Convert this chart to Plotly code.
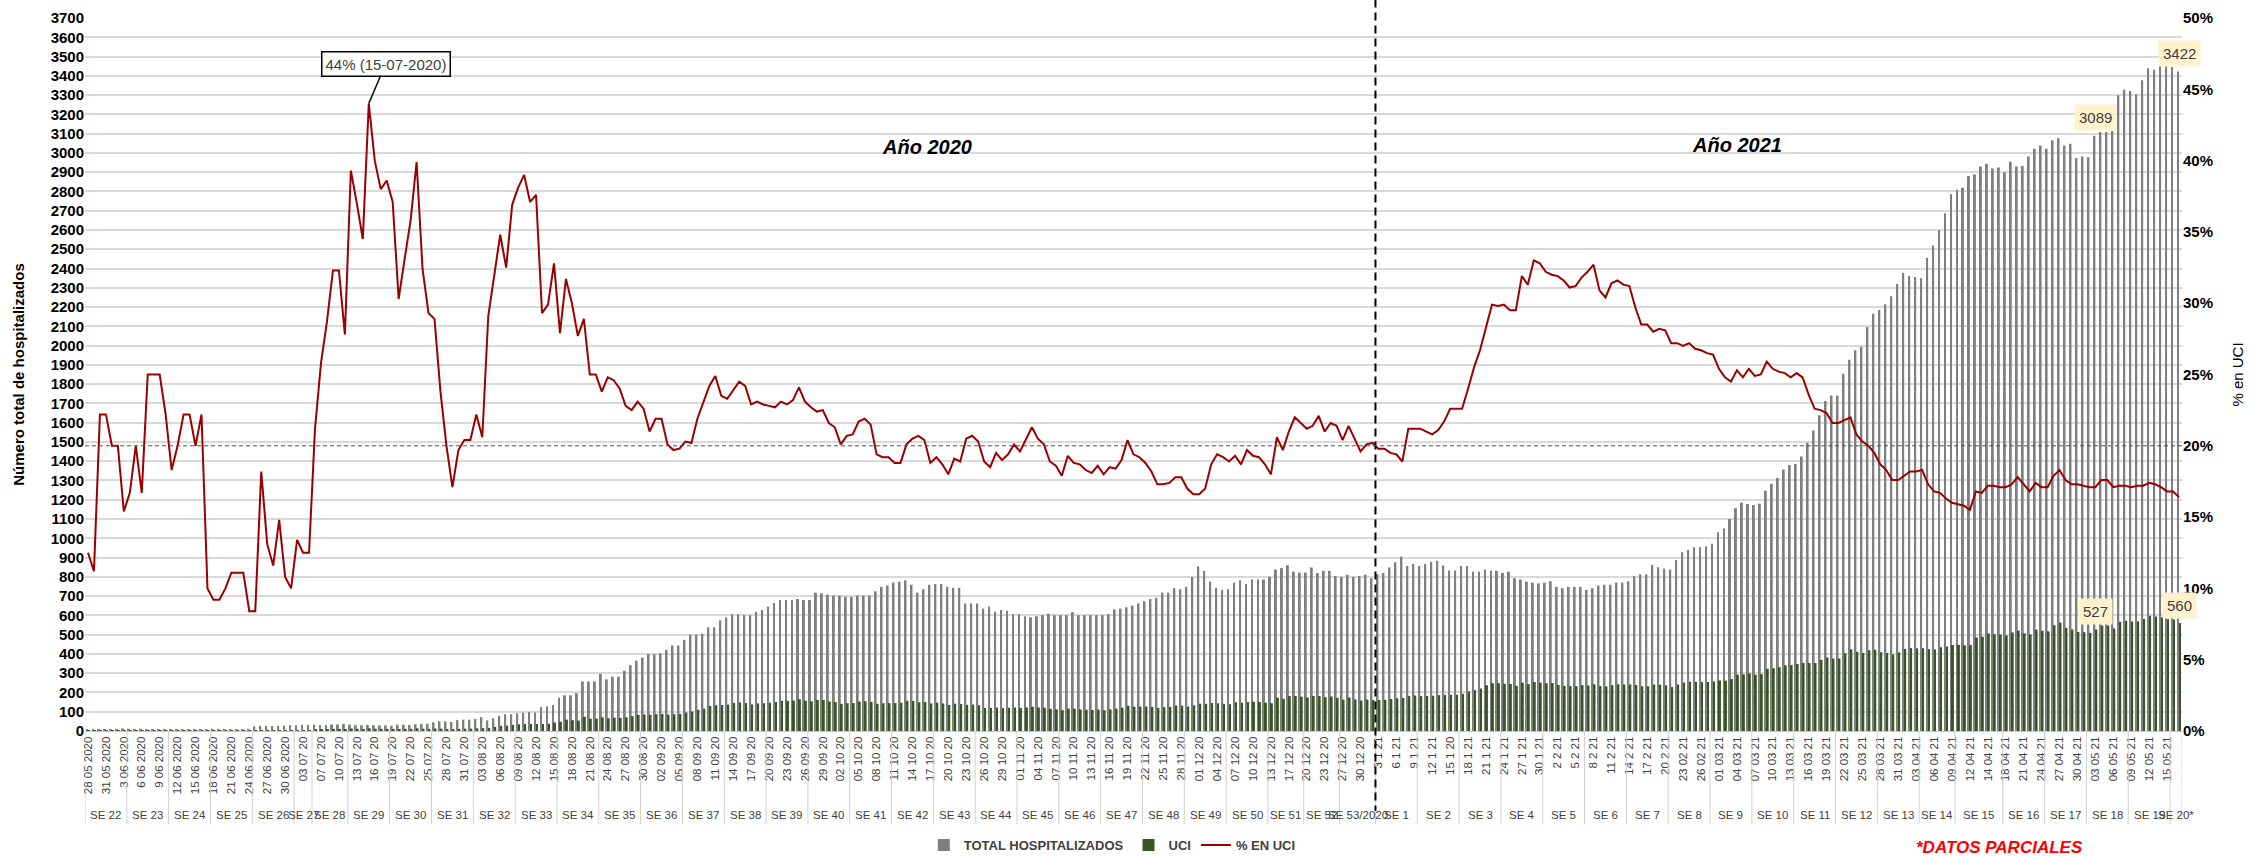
import plotly.graph_objects as go

# ---------------- DATA ----------------
date_labels = [
    "28 05 2020", "31 05 2020", "3 06 2020", "6 06 2020", "9 06 2020", "12 06 2020", "15 06 2020",
    "18 06 2020", "21 06 2020", "24 06 2020", "27 06 2020", "30 06 2020",
    "03 07 20", "07 07 20", "10 07 20", "13 07 20", "16 07 20", "19 07 20", "22 07 20", "25 07 20",
    "28 07 20", "31 07 20",
    "03 08 20", "06 08 20", "09 08 20", "12 08 20", "15 08 20", "18 08 20", "21 08 20", "24 08 20",
    "27 08 20", "30 08 20",
    "02 09 20", "05 09 20", "08 09 20", "11 09 20", "14 09 20", "17 09 20", "20 09 20", "23 09 20",
    "26 09 20", "29 09 20",
    "02 10 20", "05 10 20", "08 10 20", "11 10 20", "14 10 20", "17 10 20", "20 10 20", "23 10 20",
    "26 10 20", "29 10 20",
    "01 11 20", "04 11 20", "07 11 20", "10 11 20", "13 11 20", "16 11 20", "19 11 20", "22 11 20",
    "25 11 20", "28 11 20",
    "01 12 20", "04 12 20", "07 12 20", "10 12 20", "13 12 20", "17 12 20", "20 12 20", "23 12 20",
    "27 12 20", "30 12 20",
    "3 1 21", "6 1 21", "9 1 21", "12 1 21", "15 1 20", "18 1 21", "21 1 21", "24 1 21", "27 1 21",
    "30 1 21",
    "2 2 21", "5 2 21", "8 2 21", "11 2 21", "14 2 21", "17 2 21", "20 2 21", "23 02 21", "26 02 21",
    "01 03 21", "04 03 21", "07 03 21", "10 03 21", "13 03 21", "16 03 21", "19 03 21", "22 03 21",
    "25 03 21", "28 03 21", "31 03 21",
    "03 04 21", "06 04 21", "09 04 21", "12 04 21", "14 04 21", "18 04 21", "21 04 21", "24 04 21",
    "27 04 21", "30 04 21",
    "03 05 21", "06 05 21", "09 05 21", "12 05 21", "15 05 21",
]

week_labels = ["SE 22", "SE 23", "SE 24", "SE 25", "SE 26", "SE 27", "SE 28", "SE 29", "SE 30", "SE 31",
               "SE 32", "SE 33", "SE 34", "SE 35", "SE 36", "SE 37", "SE 38", "SE 39", "SE 40", "SE 41",
               "SE 42", "SE 43", "SE 44", "SE 45", "SE 46", "SE 47", "SE 48", "SE 49", "SE 50", "SE 51",
               "SE 52", "SE 53/2020", "SE 1", "SE 2", "SE 3", "SE 4", "SE 5", "SE 6", "SE 7", "SE 8",
               "SE 9", "SE 10", "SE 11", "SE 12", "SE 13", "SE 14", "SE 15", "SE 16", "SE 17", "SE 18",
               "SE 19", "SE 20*"]
# first category index of each week, plus the end
week_starts = [0, 7, 14, 21, 28, 35, 38, 44, 51, 58, 65, 72, 79, 86, 93, 100, 107, 114, 121, 128,
               135, 142, 149, 156, 163, 170, 177, 184, 191, 198, 204, 210, 216, 223, 230, 237, 244,
               251, 258, 265, 272, 279, 286, 293, 300, 307, 313, 321, 328, 335, 342, 349, 351]

total_hosp = [
    8, 9, 9, 9, 10, 10, 13, 12, 10, 12,
    8, 8, 8, 9, 11, 10, 9, 9, 10, 9,
    10, 11, 11, 10, 9, 9, 9, 12, 24, 27,
    27, 26, 27, 28, 30, 30, 32, 32, 33, 31,
    31, 34, 34, 36, 33, 30, 29, 32, 30, 29,
    29, 27, 33, 33, 31, 35, 37, 38, 45, 50,
    50, 47, 56, 59, 59, 63, 72, 55, 66, 79,
    87, 87, 92, 95, 99, 96, 124, 128, 135, 173,
    185, 185, 196, 257, 257, 257, 297, 268, 282, 282,
    313, 342, 365, 381, 399, 399, 403, 421, 444, 444,
    473, 500, 500, 505, 538, 538, 574, 590, 606, 606,
    601, 601, 619, 628, 646, 664, 680, 680, 680, 685,
    680, 680, 718, 714, 707, 703, 703, 696, 696, 703,
    703, 703, 725, 748, 755, 770, 775, 782, 759, 718,
    736, 759, 763, 763, 748, 743, 743, 662, 662, 662,
    635, 646, 619, 628, 624, 606, 606, 595, 590, 595,
    601, 608, 601, 601, 601, 617, 601, 601, 601, 601,
    601, 606, 631, 635, 642, 651, 662, 673, 685, 691,
    718, 718, 741, 736, 748, 800, 854, 831, 775, 743,
    732, 736, 770, 782, 763, 786, 786, 786, 800, 838,
    845, 860, 827, 822, 822, 849, 820, 831, 831, 804,
    800, 811, 800, 804, 811, 793, 815, 820, 849, 876,
    905, 856, 867, 856, 867, 878, 883, 860, 833, 833,
    856, 856, 827, 827, 838, 831, 831, 820, 827, 793,
    786, 775, 770, 766, 770, 777, 748, 741, 748, 748,
    748, 732, 741, 755, 759, 759, 770, 770, 777, 804,
    813, 813, 862, 850, 843, 838, 887, 928, 940, 953,
    953, 958, 972, 1031, 1051, 1100, 1156, 1185, 1178, 1173,
    1180, 1247, 1283, 1313, 1357, 1381, 1386, 1425, 1496, 1560,
    1638, 1712, 1741, 1741, 1854, 1927, 1976, 1994, 2097, 2165,
    2185, 2214, 2256, 2319, 2378, 2361, 2356, 2349, 2454, 2520,
    2599, 2687, 2785, 2809, 2819, 2880, 2888, 2929, 2944, 2919,
    2924, 2900, 2954, 2929, 2932, 2981, 3022, 3039, 3022, 3066,
    3076, 3039, 3047, 2973, 2981, 2978, 3089, 3108, 3108, 3113,
    3299, 3328, 3321, 3304, 3377, 3439, 3431, 3451, 3451, 3446,
    3422,
]

uci = [
    1, 1, 2, 2, 2, 2, 2, 2, 2, 2,
    2, 2, 2, 2, 2, 2, 2, 2, 2, 2,
    1, 1, 1, 1, 1, 1, 1, 1, 2, 5,
    4, 3, 4, 3, 3, 4, 4, 4, 7, 8,
    9, 11, 11, 10, 13, 11, 10, 14, 12, 11,
    11, 10, 10, 11, 11, 14, 12, 11, 13, 12,
    10, 8, 11, 12, 12, 14, 15, 16, 21, 27,
    28, 32, 35, 37, 37, 36, 36, 38, 44, 48,
    59, 56, 54, 74, 64, 64, 71, 66, 69, 68,
    71, 77, 84, 86, 84, 87, 88, 85, 87, 88,
    96, 101, 110, 116, 130, 134, 135, 137, 145, 148,
    145, 138, 143, 144, 147, 151, 157, 156, 158, 165,
    157, 154, 161, 161, 153, 150, 141, 144, 145, 153,
    154, 151, 141, 144, 145, 145, 146, 157, 156, 149,
    150, 143, 147, 143, 135, 142, 140, 136, 137, 134,
    120, 120, 121, 119, 121, 122, 119, 122, 126, 122,
    121, 115, 112, 108, 116, 116, 112, 110, 109, 112,
    108, 112, 116, 121, 131, 126, 127, 127, 125, 120,
    124, 125, 132, 131, 127, 133, 142, 141, 145, 144,
    141, 139, 149, 146, 150, 152, 151, 147, 144, 173,
    166, 181, 182, 178, 174, 182, 181, 175, 179, 172,
    163, 174, 164, 158, 163, 160, 161, 162, 166, 170,
    171, 181, 184, 181, 182, 183, 186, 187, 188, 188,
    193, 205, 211, 221, 237, 248, 248, 245, 244, 234,
    251, 243, 254, 251, 248, 249, 239, 234, 233, 233,
    238, 236, 242, 233, 231, 238, 243, 241, 242, 239,
    232, 232, 241, 240, 237, 228, 241, 251, 256, 255,
    254, 254, 257, 262, 261, 270, 292, 294, 299, 292,
    295, 323, 326, 331, 341, 342, 348, 353, 353, 353,
    369, 382, 376, 376, 404, 424, 411, 405, 419, 422,
    409, 405, 397, 408, 426, 430, 429, 430, 425, 423,
    434, 438, 446, 447, 445, 446, 485, 489, 506, 502,
    500, 496, 511, 521, 507, 501, 526, 520, 517, 549,
    563, 535, 527, 514, 513, 509, 527, 547, 547, 532,
    567, 572, 568, 568, 581, 598, 594, 590, 580, 579,
    560,
]

pct_uci = [
    12.5, 11.2, 22.2, 22.2, 20.0, 20.0, 15.4, 16.7, 20.0, 16.7,
    25.0, 25.0, 25.0, 22.2, 18.3, 20.0, 22.2, 22.2, 20.0, 22.2,
    10.0, 9.2, 9.2, 10.0, 11.1, 11.1, 11.1, 8.4, 8.4, 18.2,
    13.1, 11.6, 14.8, 10.8, 10.0, 13.4, 12.5, 12.5, 21.2, 25.8,
    28.7, 32.3, 32.3, 27.8, 39.3, 37.0, 34.5, 44.0, 40.0, 38.0,
    38.6, 37.1, 30.3, 33.1, 35.8, 39.9, 32.4, 29.3, 28.9, 23.8,
    20.0, 17.1, 19.7, 20.4, 20.4, 22.2, 20.6, 29.1, 31.9, 34.8,
    32.5, 36.9, 38.1, 39.0, 37.1, 37.6, 29.3, 29.9, 32.8, 27.9,
    31.7, 30.0, 27.7, 28.9, 25.0, 25.0, 23.8, 24.8, 24.6, 24.0,
    22.8, 22.5, 23.1, 22.6, 21.0, 21.9, 21.9, 20.1, 19.7, 19.8,
    20.3, 20.2, 21.9, 23.0, 24.2, 24.9, 23.5, 23.3, 23.9, 24.5,
    24.2, 22.9, 23.1, 22.9, 22.8, 22.7, 23.1, 22.9, 23.2, 24.1,
    23.1, 22.7, 22.4, 22.5, 21.6, 21.3, 20.1, 20.7, 20.8, 21.7,
    21.9, 21.5, 19.4, 19.2, 19.2, 18.8, 18.8, 20.1, 20.5, 20.7,
    20.4, 18.8, 19.2, 18.7, 18.0, 19.1, 18.9, 20.5, 20.7, 20.3,
    18.9, 18.5, 19.5, 19.0, 19.4, 20.1, 19.6, 20.5, 21.3, 20.5,
    20.1, 18.9, 18.6, 17.9, 19.3, 18.8, 18.7, 18.3, 18.1, 18.6,
    18.0, 18.5, 18.4, 19.0, 20.4, 19.4, 19.2, 18.8, 18.2, 17.3,
    17.3, 17.4, 17.8, 17.8, 17.0, 16.6, 16.6, 17.0, 18.7, 19.4,
    19.2, 18.9, 19.3, 18.7, 19.7, 19.3, 19.2, 18.7, 18.0, 20.6,
    19.7, 21.0, 22.0, 21.6, 21.2, 21.4, 22.1, 21.0, 21.6, 21.4,
    20.4, 21.4, 20.5, 19.6, 20.1, 20.2, 19.8, 19.8, 19.5, 19.4,
    18.9, 21.2, 21.2, 21.2, 21.0, 20.8, 21.1, 21.7, 22.6, 22.6,
    22.6, 24.0, 25.5, 26.7, 28.3, 29.9, 29.8, 29.9, 29.5, 29.5,
    31.9, 31.3, 33.0, 32.8, 32.2, 32.0, 31.9, 31.6, 31.1, 31.2,
    31.8, 32.2, 32.7, 30.9, 30.4, 31.4, 31.6, 31.3, 31.2, 29.7,
    28.5, 28.5, 28.0, 28.2, 28.1, 27.2, 27.2, 27.0, 27.2, 26.8,
    26.7, 26.5, 26.4, 25.4, 24.8, 24.5, 25.3, 24.8, 25.4, 24.9,
    25.0, 25.9, 25.4, 25.2, 25.1, 24.8, 25.1, 24.8, 23.6, 22.6,
    22.5, 22.3, 21.6, 21.6, 21.8, 22.0, 20.8, 20.3, 20.0, 19.5,
    18.7, 18.3, 17.6, 17.6, 17.9, 18.2, 18.2, 18.3, 17.3, 16.8,
    16.7, 16.3, 16.0, 15.9, 15.8, 15.5, 16.8, 16.7, 17.2, 17.2,
    17.1, 17.1, 17.3, 17.8, 17.3, 16.8, 17.4, 17.1, 17.1, 17.9,
    18.3, 17.6, 17.3, 17.3, 17.2, 17.1, 17.1, 17.6, 17.6, 17.1,
    17.2, 17.2, 17.1, 17.2, 17.2, 17.4, 17.3, 17.1, 16.8, 16.8,
    16.4,
]

year_break_index = 216           # first category of 2021 (SE 1)
peak_index, peak_text = 47, "44% (15-07-2020)"
highlight_points = [(336, "total"), (350, "total"), (336, "uci"), (350, "uci")]

# ---------------- FIGURE ----------------
FONT = "Liberation Sans"
n = len(total_hosp)
x = list(range(n))

fig = go.Figure()
fig.add_trace(go.Bar(x=x, y=total_hosp, name="TOTAL HOSPITALIZADOS", marker_color="#7F7F7F",
                     marker_line_width=0))
fig.add_trace(go.Bar(x=x, y=uci, name="UCI", marker_color="#375623", marker_line_width=0))
fig.add_trace(go.Scatter(x=x, y=pct_uci, name="% EN UCI", mode="lines", yaxis="y2",
                         line=dict(color="#990000", width=2)))

shapes = []
# week separators in the label area
for b in week_starts:
    shapes.append(dict(type="line", xref="x", yref="paper", x0=b - 0.5, x1=b - 0.5, y0=0, y1=-0.131,
                       line=dict(color="#D0D0D0", width=1)))
# dashed year separator
shapes.append(dict(type="line", xref="x", yref="paper", x0=year_break_index - 0.5,
                   x1=year_break_index - 0.5, y0=1.026, y1=-0.112,
                   line=dict(color="black", width=2, dash="8px,5px")))
# 20% reference line
shapes.append(dict(type="line", xref="x", yref="y2", x0=-0.5, x1=n - 0.5, y0=20, y1=20,
                   line=dict(color="#505050", width=1, dash="4px,3px")))

annotations = []
for i, lab in enumerate(week_labels):
    c = (week_starts[i] + week_starts[i + 1] - 1) / 2
    annotations.append(dict(x=c, y=-0.118, xref="x", yref="paper", text=lab, showarrow=False,
                            xanchor="center", yanchor="middle",
                            font=dict(family=FONT, size=11.5, color="#404040")))

annotations.append(dict(x=0.4015, y=0.819, xref="paper", yref="paper", text="<b><i>Año 2020</i></b>",
                        showarrow=False, xanchor="center", yanchor="middle",
                        font=dict(family=FONT, size=20, color="black")))
annotations.append(dict(x=0.788, y=0.822, xref="paper", yref="paper", text="<b><i>Año 2021</i></b>",
                        showarrow=False, xanchor="center", yanchor="middle",
                        font=dict(family=FONT, size=20, color="black")))

annotations.append(dict(x=peak_index, y=pct_uci[peak_index], xref="x", yref="y2", text=peak_text,
                        showarrow=True, arrowhead=0, arrowwidth=1.5, arrowcolor="black",
                        ax=17, ay=-40, bgcolor="white", bordercolor="black", borderwidth=1.5,
                        borderpad=3, font=dict(family=FONT, size=15, color="#404040")))

for idx, series in highlight_points:
    val = total_hosp[idx] if series == "total" else uci[idx]
    annotations.append(dict(x=idx, y=val, xref="x", yref="y", text=str(val), showarrow=False,
                            xanchor="center", yanchor="middle",
                            yshift=18, bgcolor="#FFF2CC", borderpad=4,
                            font=dict(family=FONT, size=15, color="#404040")))

annotations.append(dict(x=0.913, y=-0.163, xref="paper", yref="paper",
                        text="<b><i>*DATOS PARCIALES</i></b>", showarrow=False,
                        xanchor="center", yanchor="middle",
                        font=dict(family=FONT, size=17, color="#FF0000")))

fig.update_layout(
    width=2254, height=856,
    margin=dict(l=85, r=72, t=18, b=125, autoexpand=False),
    template="none",
    plot_bgcolor="white", paper_bgcolor="white",
    barmode="group", bargap=0.35, bargroupgap=0,
    font=dict(family=FONT, color="#404040"),
    showlegend=True,
    legend=dict(orientation="h", x=0.40, y=-0.16, xanchor="left", yanchor="middle",
                font=dict(family=FONT, size=13, color="#404040", weight="bold"),
                bgcolor="rgba(0,0,0,0)", itemwidth=30),
    xaxis=dict(range=[-0.5, n - 0.5], tickmode="array",
               tickvals=[3 * k for k in range(len(date_labels))], ticktext=date_labels,
               tickangle=-90, tickfont=dict(family=FONT, size=11.5, color="#404040"),
               showgrid=False, showline=True, linecolor="#C8C8C8", linewidth=1,
               ticks="", zeroline=False, automargin=False),
    yaxis=dict(range=[0, 3700], dtick=100, showgrid=True, gridcolor="#D9D9D9", gridwidth=1.5,
               zeroline=False, showline=False, ticks="",
               tickfont=dict(family=FONT, size=15, color="black", weight="bold"),
               title=dict(text="Número total de hospitalizados", standoff=22,
                          font=dict(family=FONT, size=15, color="black", weight="bold")),
               automargin=False),
    yaxis2=dict(range=[0, 50], dtick=5, ticksuffix="%", overlaying="y", side="right",
                showgrid=False, zeroline=False, showline=False, ticks="",
                tickfont=dict(family=FONT, size=15, color="black", weight="bold"),
                title=dict(text="% en UCI", standoff=20,
                           font=dict(family=FONT, size=15, color="black")),
                automargin=False),
    shapes=shapes,
    annotations=annotations,
)

fig.write_html("out.html", config={"displayModeBar": False},
               post_script="document.body.style.margin='0';document.body.style.overflow='hidden';")
